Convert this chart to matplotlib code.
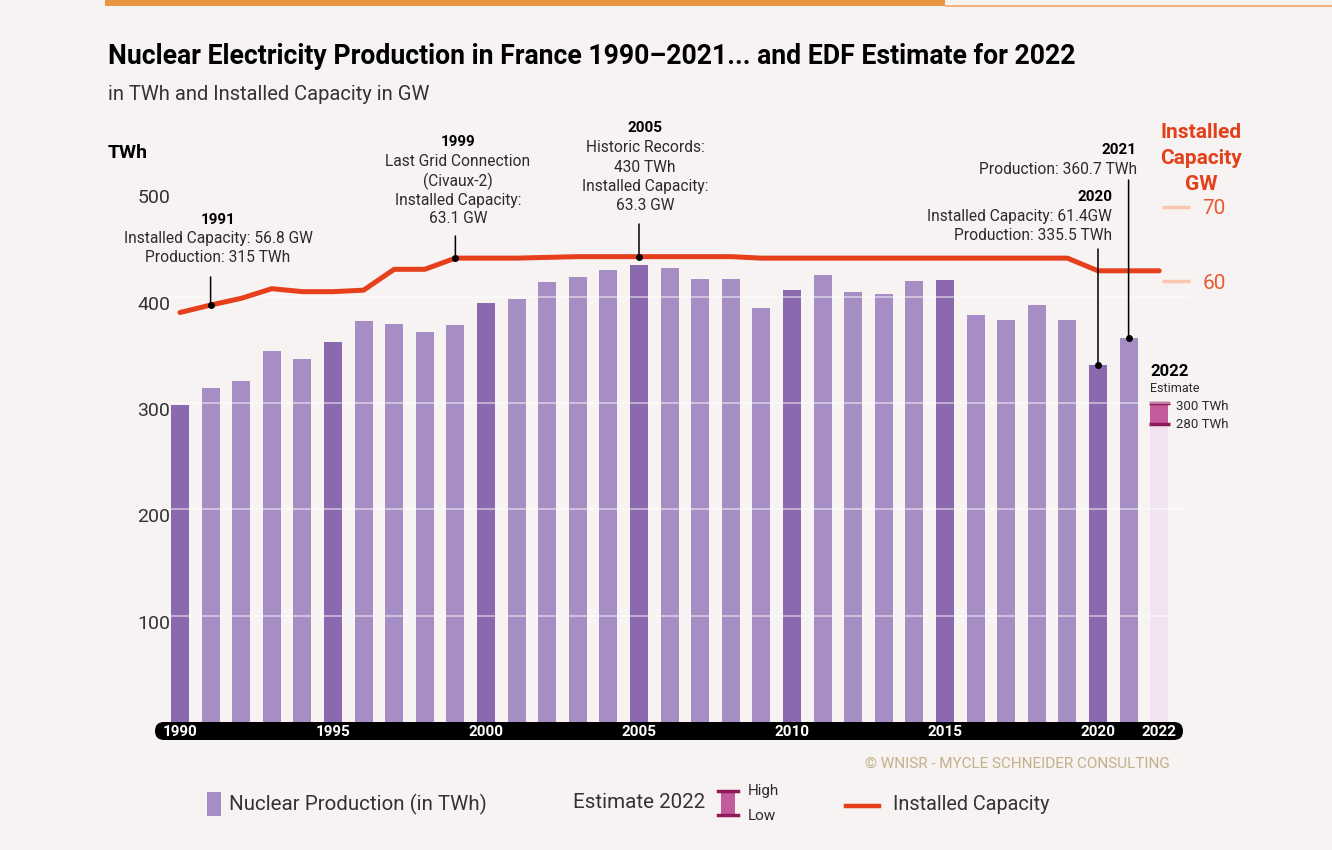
import matplotlib.pyplot as plt
import numpy as np
from matplotlib.patches import FancyBboxPatch, Rectangle
from matplotlib.lines import Line2D
from matplotlib.transforms import IdentityTransform, offset_copy

plt.rcParams['font.family'] = ['Roboto', 'DejaVu Sans']

# Daten
years = np.arange(1990, 2022)
production = [298, 314, 321, 349, 341, 357, 377, 374, 367, 373,
              394, 398, 414, 419, 425, 430, 427, 417, 417, 389,
              406, 420, 404, 403, 415, 416, 383, 378, 392, 378,
              335.5, 360.7]
highlight_years = [1990, 1995, 2000, 2005, 2010, 2015, 2020]
cap_years = np.arange(1990, 2023)
capacity = [55.8, 56.8, 57.7, 59.0, 58.6, 58.6, 58.8, 61.6, 61.6, 63.1,
            63.1, 63.1, 63.2, 63.3, 63.3, 63.3, 63.3, 63.3, 63.3, 63.1,
            63.1, 63.1, 63.1, 63.1, 63.1, 63.1, 63.1, 63.1, 63.1, 63.1,
            61.4, 61.4, 61.4]
est_year = 2022
est_low, est_high = 280, 300
year_labels = [1990, 1995, 2000, 2005, 2010, 2015, 2020, 2022]
twh_ticks = [100, 200, 300, 400, 500]
gw_ticks = [60, 70]

# Farben
bg = '#f7f3f2'
c_light = '#a68ec4'
c_dark = '#8a69ae'
c_est = '#f2e3f1'
c_range = '#c35b9b'
c_cap = '#8e1a5c'
c_line = '#e63f1b'
txt = '#2b2b2b'

W, H = 1332, 850
fig = plt.figure(figsize=(W / 100, H / 100), dpi=100)
fig.patch.set_facecolor(bg)


def fx(px):
    return px / W


def fy(py):
    return 1 - py / H


# Orangener Balken oben
fig.add_artist(Rectangle((fx(105), fy(6)), fx(945) - fx(105), 6 / H,
                         transform=fig.transFigure, fc='#e8963f', ec='none'))
fig.add_artist(Rectangle((fx(945), fy(7)), 1 - fx(945), 2 / H,
                         transform=fig.transFigure, fc='#f2b27c', ec='none'))

# Titel
fig.text(fx(108), fy(56), 'Nuclear Electricity Production in France 1990\u20132021... and EDF Estimate for 2022',
         fontsize=19.2, weight='bold', color='black', ha='left', va='center')
fig.text(fx(108), fy(95), 'in TWh and Installed Capacity in GW',
         fontsize=14.5, color='#333333', ha='left', va='center')

# Achsen
ax = fig.add_axes([fx(150), fy(722), fx(1190) - fx(150), fy(130) - fy(722)])
ax.set_facecolor('none')
ax.set_xlim(1989.02, 2023.007)
ax.set_ylim(0, 556.8)
for s in ax.spines.values():
    s.set_visible(False)

colors = [c_dark if y in highlight_years else c_light for y in years]
ax.bar(years, production, width=0.59, color=colors, zorder=2)
ax.bar(est_year, est_low, width=0.59, color=c_est, zorder=2)
ax.bar(est_year, est_high - est_low, bottom=est_low, width=0.59, color=c_range, zorder=2)
ax.hlines([est_low, est_high], est_year - 0.34, est_year + 0.34, color=c_cap, lw=2.5, zorder=3)

for v in twh_ticks[:4]:
    ax.axhline(v, color='white', alpha=0.5, lw=1.3, zorder=3)

ax.set_yticks([])
ax.set_xticks(year_labels)
ax.set_xticklabels([str(y) for y in year_labels], color='white', weight='bold', fontsize=11)
ax.tick_params(axis='x', length=0, pad=2)

lab_tr = offset_copy(ax.get_yaxis_transform(), fig=fig, x=0, y=-8, units='dots')
for v in twh_ticks:
    ax.text(0.0192, v, str(v), transform=lab_tr, ha='right', va='center',
            fontsize=14, color='#333333')

# Schwarzes Band für die Jahre
fig.add_artist(FancyBboxPatch((155, H - 740), 1183 - 155, 18,
                              boxstyle='round,pad=0,rounding_size=9',
                              transform=IdentityTransform(), fc='black', ec='none', zorder=-1))

# Installierte Kapazität
ax2 = ax.twinx()
ax2.set_ylim(0.83, 80.3)
for s in ax2.spines.values():
    s.set_visible(False)
ax2.plot(cap_years, capacity, color=c_line, lw=3.6, solid_capstyle='round', solid_joinstyle='round', zorder=4)
ax2.set_yticks(gw_ticks)
ax2.tick_params(axis='y', direction='in', length=20, width=2.5, color='#f9c7ad',
                pad=9, labelsize=15, labelcolor='#ea5a35')


def stem(xy_tr, x, y, top_px):
    ax2.annotate('', xy=(x, y), xycoords=xy_tr, xytext=(x, H - top_px),
                 textcoords=(xy_tr, 'figure pixels'),
                 arrowprops=dict(arrowstyle='-', color='black', lw=1.1, shrinkA=0, shrinkB=0),
                 zorder=6)
    ax2.plot(x, y, 'o', color='black', ms=4, zorder=7, transform=xy_tr)


stem(ax2.transData, 1991, capacity[1], 277)
stem(ax2.transData, 1999, capacity[9], 236)
stem(ax2.transData, 2005, capacity[15], 224)
stem(ax.transData, 2020, production[30], 249)
stem(ax.transData, 2021, production[31], 180)


def block(x, y0, title, lines, ha, ys):
    fig.text(fx(x), fy(y0), title, ha=ha, va='center', fontsize=11, weight='bold', color='black')
    for line, yy in zip(lines, ys):
        fig.text(fx(x), fy(yy), line, ha=ha, va='center', fontsize=11.2, color=txt)


block(218, 220, '1991', ['Installed Capacity: 56.8 GW', 'Production: 315 TWh'], 'center', [239, 258])
block(458, 142, '1999', ['Last Grid Connection', '(Civaux-2)', 'Installed Capacity:', '63.1 GW'],
      'center', [162, 181, 200, 219])
block(645, 128, '2005', ['Historic Records:', '430 TWh', 'Installed Capacity:', '63.3 GW'],
      'center', [148, 167, 186, 205])
block(1137, 150, '2021', ['Production: 360.7 TWh'], 'right', [169])
block(1112, 197, '2020', ['Installed Capacity: 61.4GW', 'Production: 335.5 TWh'], 'right', [216, 235])

# 2022 Schätzung
fig.text(fx(1150), fy(371), '2022', ha='left', va='center', fontsize=12, weight='bold', color='black')
fig.text(fx(1150), fy(388), 'Estimate', ha='left', va='center', fontsize=9, color=txt)
fig.text(fx(1176), fy(406), '300 TWh', ha='left', va='center', fontsize=9.5, color=txt)
fig.text(fx(1176), fy(425), '280 TWh', ha='left', va='center', fontsize=9.5, color=txt)

# Achsentitel
fig.text(fx(108), fy(153), 'TWh', ha='left', va='center', fontsize=14, weight='bold', color='black')
for t, yy in zip(['Installed', 'Capacity', 'GW'], [133, 159, 184]):
    fig.text(fx(1201), fy(yy), t, ha='center', va='center', fontsize=15, weight='bold', color='#e2401b')

# Copyright
fig.text(fx(1170), fy(764), '\u00a9 WNISR - MYCLE SCHNEIDER CONSULTING', ha='right', va='center',
         fontsize=11, color='#c3b088')

# Legende
fig.add_artist(Rectangle((fx(207), fy(816)), fx(221) - fx(207), 24 / H,
                         transform=fig.transFigure, fc=c_light, ec='none'))
fig.text(fx(229), fy(804), 'Nuclear Production (in TWh)', ha='left', va='center',
         fontsize=14.8, color='#333333')
fig.text(fx(573), fy(803), 'Estimate 2022', ha='left', va='center',
         fontsize=14.8, color='#333333')
fig.add_artist(Rectangle((fx(721), fy(815)), fx(735) - fx(721), 24 / H,
                         transform=fig.transFigure, fc=c_range, ec='none'))
for yy in [791, 815]:
    fig.add_artist(Line2D([fx(718), fx(738)], [fy(yy), fy(yy)], transform=fig.transFigure,
                          color=c_cap, lw=2.5))
fig.text(fx(748), fy(791), 'High', ha='left', va='center', fontsize=11, color=txt)
fig.text(fx(748), fy(816), 'Low', ha='left', va='center', fontsize=11, color=txt)
fig.add_artist(Line2D([fx(846), fx(879)], [fy(806), fy(806)], transform=fig.transFigure,
                      color=c_line, lw=3.2))
fig.text(fx(893), fy(805), 'Installed Capacity', ha='left', va='center',
         fontsize=14.3, color='#333333')

fig.savefig('out.png', dpi=100, facecolor=bg)
